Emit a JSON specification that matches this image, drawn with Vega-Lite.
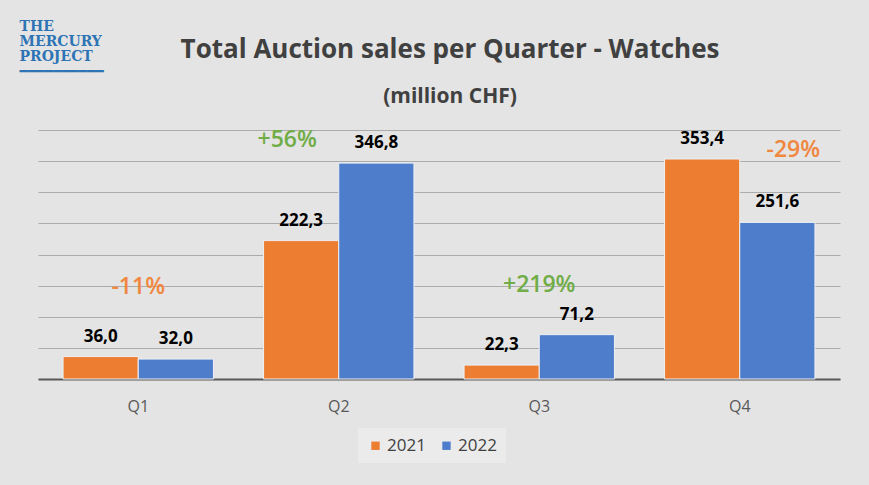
{
  "$schema": "https://vega.github.io/schema/vega-lite/v6.json",
  "width": 802,
  "height": 249,
  "autosize": {"type": "none"},
  "padding": {"left": 38, "top": 130, "right": 29, "bottom": 106},
  "background": "#e4e4e4",
  "config": {
    "view": {"stroke": null},
    "font": "Open Sans",
    "locale": {"number": {"decimal": ",", "thousands": ".", "grouping": [3], "currency": ["", " CHF"]}}
  },
  "title": {
    "text": "Total Auction sales per Quarter - Watches",
    "subtitle": "(million CHF)",
    "fontSize": 26,
    "fontWeight": "bold",
    "color": "#404040",
    "subtitleFontSize": 21,
    "subtitleFontWeight": "bold",
    "subtitleColor": "#404040",
    "subtitlePadding": 23,
    "anchor": "middle",
    "offset": -88,
    "dx": 11
  },
  "datasets": {
    "sales": [
      {"quarter": "Q1", "year": "2021", "sales": 36.0},
      {"quarter": "Q1", "year": "2022", "sales": 32.0},
      {"quarter": "Q2", "year": "2021", "sales": 222.3},
      {"quarter": "Q2", "year": "2022", "sales": 346.8},
      {"quarter": "Q3", "year": "2021", "sales": 22.3},
      {"quarter": "Q3", "year": "2022", "sales": 71.2},
      {"quarter": "Q4", "year": "2021", "sales": 353.4},
      {"quarter": "Q4", "year": "2022", "sales": 251.6}
    ],
    "notes": [
      {"quarter": "Q1", "year": "2021", "value": 148, "note": "-11%", "tone": "down", "anchor": "center"},
      {"quarter": "Q2", "year": "2021", "value": 384, "note": "+56%", "tone": "up", "anchor": "bar"},
      {"quarter": "Q3", "year": "2021", "value": 151, "note": "+219%", "tone": "up", "anchor": "center"},
      {"quarter": "Q4", "year": "2022", "value": 368, "note": "-29%", "tone": "down", "anchor": "bar"}
    ]
  },
  "layer": [
    {
      "data": {"name": "sales"},
      "mark": {"type": "bar", "stroke": "#eef0f4", "strokeWidth": 1},
      "encoding": {
        "x": {
          "field": "quarter", "type": "nominal",
          "scale": {"paddingInner": 0.25, "paddingOuter": 0.125},
          "axis": {"title": null, "labelAngle": 0, "labelFontSize": 16, "labelColor": "#595959", "labelPadding": 19, "ticks": false, "domainColor": "#595959", "domainWidth": 2, "labelFont": "Open Sans"}
        },
        "xOffset": {"field": "year", "type": "nominal", "scale": {"paddingInner": 0}},
        "y": {
          "field": "sales", "type": "quantitative",
          "scale": {"domain": [0, 400], "nice": false},
          "axis": {
            "values": [0, 50, 100, 150, 200, 250, 300, 350, 400],
            "tickCount": 20,
            "labels": false, "ticks": false, "domain": false,
            "gridColor": "#ababab", "gridWidth": 1,
            "title": ["THE", "MERCURY", "PROJECT", "━━━━━━━━━━"],
            "titleAngle": 0, "titleAlign": "left", "titleBaseline": "top",
            "titleX": -19, "titleY": -111,
            "titleFont": "DejaVu Serif", "titleFontSize": 14, "titleFontWeight": "bold",
            "titleColor": "#2e74b5", "titleLineHeight": 15
          }
        },
        "color": {
          "field": "year", "type": "nominal",
          "scale": {"domain": ["2021", "2022"], "range": ["#ED7D31", "#4E7DCC"]},
          "legend": {
            "orient": "none", "legendX": 320, "legendY": 298, "direction": "horizontal",
            "title": null, "labelFontSize": 17, "labelColor": "#404040", "labelFont": "Open Sans",
            "symbolType": "square", "symbolSize": 70, "symbolStrokeWidth": 0,
            "fillColor": "#ebebeb", "padding": 9, "columnPadding": 12, "labelOffset": 3
          }
        }
      }
    },
    {
      "data": {"name": "sales"},
      "mark": {"type": "text", "fontWeight": "bold", "fontSize": 17, "baseline": "alphabetic", "dy": -15, "color": "#000000"},
      "encoding": {
        "x": {"field": "quarter", "type": "nominal"},
        "xOffset": {"field": "year", "type": "nominal"},
        "y": {"field": "sales", "type": "quantitative"},
        "text": {"field": "sales", "type": "quantitative", "format": ".1f"}
      }
    },
    {
      "data": {"name": "notes"},
      "transform": [{"filter": "datum.anchor == 'center'"}],
      "mark": {"type": "text", "fontSize": 23, "fontWeight": 600, "baseline": "middle"},
      "encoding": {
        "x": {"field": "quarter", "type": "nominal"},
        "y": {"field": "value", "type": "quantitative"},
        "text": {"field": "note"},
        "color": {"field": "tone", "type": "nominal", "scale": {"domain": ["up", "down"], "range": ["#70AD47", "#F0873F"]}, "legend": null}
      }
    },
    {
      "data": {"name": "notes"},
      "transform": [{"filter": "datum.quarter == 'Q2'"}],
      "mark": {"type": "text", "fontSize": 23, "fontWeight": 600, "baseline": "middle", "dx": -14},
      "encoding": {
        "x": {"field": "quarter", "type": "nominal"},
        "xOffset": {"field": "year", "type": "nominal"},
        "y": {"field": "value", "type": "quantitative"},
        "text": {"field": "note"},
        "color": {"field": "tone", "type": "nominal", "scale": {"domain": ["up", "down"], "range": ["#70AD47", "#F0873F"]}, "legend": null}
      }
    },
    {
      "data": {"name": "notes"},
      "transform": [{"filter": "datum.quarter == 'Q4'"}],
      "mark": {"type": "text", "fontSize": 23, "fontWeight": 600, "baseline": "middle", "dx": 16},
      "encoding": {
        "x": {"field": "quarter", "type": "nominal"},
        "xOffset": {"field": "year", "type": "nominal"},
        "y": {"field": "value", "type": "quantitative"},
        "text": {"field": "note"},
        "color": {"field": "tone", "type": "nominal", "scale": {"domain": ["up", "down"], "range": ["#70AD47", "#F0873F"]}, "legend": null}
      }
    }
  ],
  "resolve": {"scale": {"color": "independent"}}
}
